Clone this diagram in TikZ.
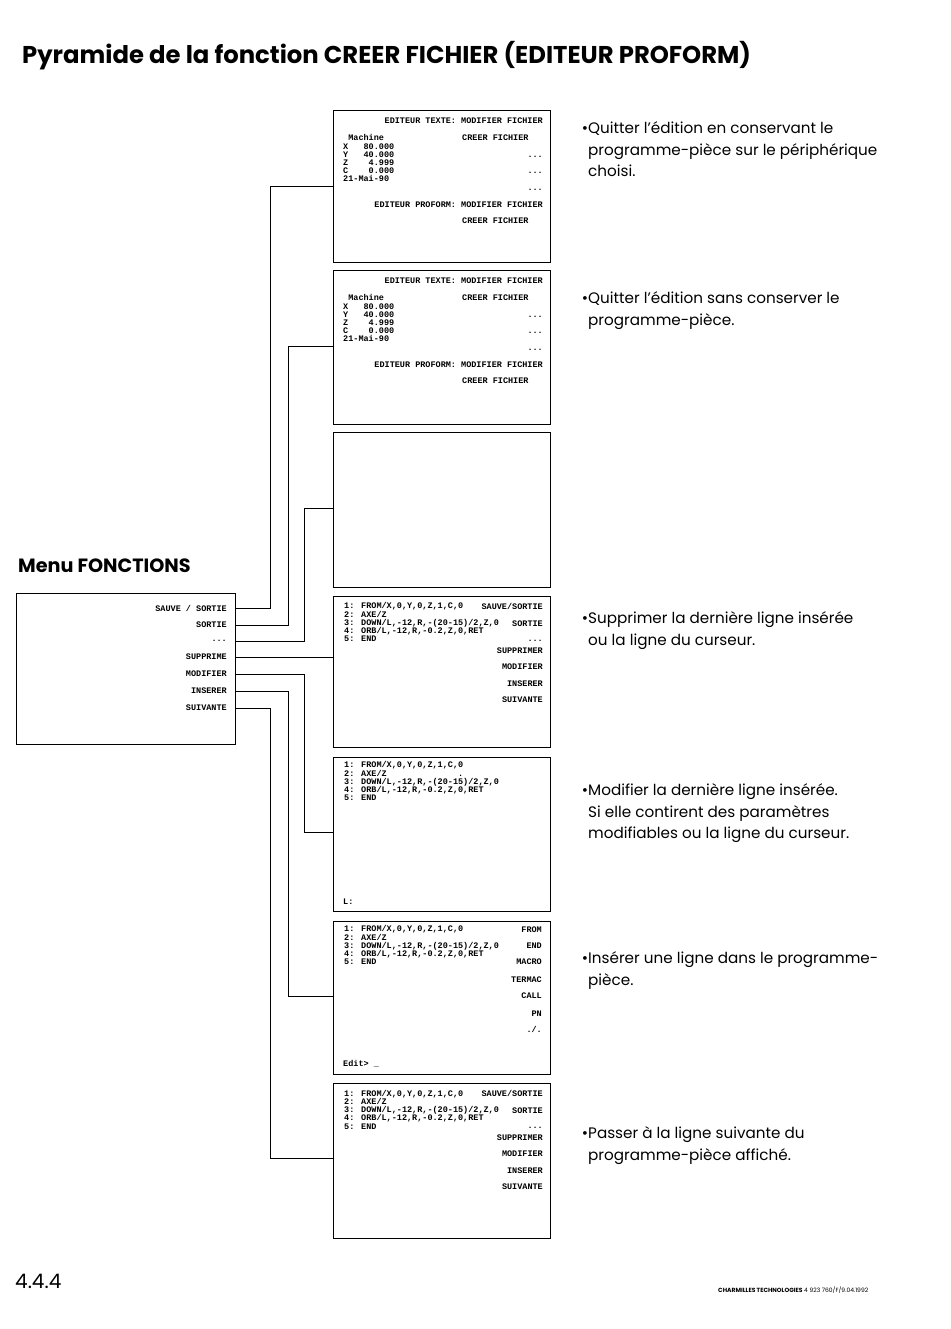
\documentclass[tikz,border=0pt]{standalone}
\usepackage{fontspec}
\setmainfont{Poppins}
\newfontfamily\scrfont{Liberation Mono}
\usetikzlibrary{positioning}

% screen contents, placed from the screen's top left corner
\newcommand{\editorlisting}[1]{%
  \node[scrtext, anchor=east] (#1-head) at ([shift={(210,11)}]#1.north west) {EDITEUR TEXTE: MODIFIER FICHIER};
  \node[scrtext, anchor=north west, align=left] (#1-pos) at ([shift={(10,24.5)}]#1.north west)
    {~Machine\\X~~~80.000\\Y~~~40.000\\Z~~~~4.999\\C~~~~0.000\\21-Mai-90};
  \node[scrtext, anchor=west] (#1-creer) at ([shift={(129,27.5)}]#1.north west) {CREER FICHIER};
  \node[scrtext, anchor=east] (#1-dotsa) at ([shift={(210,46.5)}]#1.north west) {...};
  \node[scrtext, anchor=east] (#1-dotsb) at ([shift={(210,63)}]#1.north west) {...};
  \node[scrtext, anchor=east] (#1-dotsc) at ([shift={(210,79.5)}]#1.north west) {...};
  \node[scrtext, anchor=east] (#1-proform) at ([shift={(210,94.5)}]#1.north west) {EDITEUR PROFORM: MODIFIER FICHIER};
  \node[scrtext, anchor=west] (#1-creerb) at ([shift={(129,111)}]#1.north west) {CREER FICHIER};
}
% optional #1: what stands after AXE/Z
\newcommand{\proglisting}[3][]{%
  \node[scrtext, anchor=north west, align=left] (#2-prog) at ([shift={(11,#3)}]#2.north west)
    {1: FROM/X,0,Y,0,Z,1,C,0\\2: AXE/Z#1\\3: DOWN/L,-12,R,-(20-15)/2,Z,0\\4: ORB/L,-12,R,-0.2,Z,0,RET\\5: END};
}
\newcommand{\fonctionsmenu}[1]{%
  \node[scrtext, anchor=east] (#1-sauve) at ([shift={(210,10)}]#1.north west) {SAUVE/SORTIE};
  \node[scrtext, anchor=east] (#1-sortie) at ([shift={(210,27.5)}]#1.north west) {SORTIE};
  \node[scrtext, anchor=east] (#1-dots) at ([shift={(210,45)}]#1.north west) {...};
  \node[scrtext, anchor=east] (#1-suppr) at ([shift={(210,55)}]#1.north west) {SUPPRIMER};
  \node[scrtext, anchor=east] (#1-modif) at ([shift={(210,71)}]#1.north west) {MODIFIER};
  \node[scrtext, anchor=east] (#1-inser) at ([shift={(210,88)}]#1.north west) {INSERER};
  \node[scrtext, anchor=east] (#1-suiv) at ([shift={(210,104)}]#1.north west) {SUIVANTE};
}

\begin{document}
\begin{tikzpicture}[x=1pt, y=-1pt,
    screen/.style={draw, line width=1.3pt, minimum width=217, minimum height=153, anchor=north west, inner sep=0pt},
    menubox/.style={draw, line width=1pt, minimum width=219, minimum height=151, anchor=north west, inner sep=0pt},
    scrtext/.style={inner sep=0pt, font=\scrfont\bfseries\fontsize{8.5}{8.2}\selectfont},
    desc/.style={inner sep=0pt, anchor=north west, align=left, font=\fontsize{15.2}{21.5}\selectfont},
    heading/.style={inner sep=0pt, anchor=base west, font=\bfseries\fontsize{24.3}{28}\selectfont},
    link/.style={line width=0.9pt}
  ]
  \useasboundingbox[fill=white] (0,0) rectangle (950,1329);

  \node[heading] (title) at (22,64) {Pyramide de la fonction CREER FICHIER (EDITEUR PROFORM)};
  \node[heading, font=\bfseries\fontsize{19.2}{22}\selectfont] (menutitle) at (18,572) {Menu FONCTIONS};

  % the menu
  \node[menubox] (menu) at (16,593) {};
  \node[scrtext, anchor=east] (mSauve) at (227,608) {SAUVE / SORTIE};
  \node[scrtext, anchor=east] (mSortie) at (227,625) {SORTIE};
  \node[scrtext, anchor=east] (mDots) at (227,641) {...};
  \node[scrtext, anchor=east] (mSuppr) at (227,657) {SUPPRIME};
  \node[scrtext, anchor=east] (mModif) at (227,674) {MODIFIER};
  \node[scrtext, anchor=east] (mInser) at (227,691) {INSERER};
  \node[scrtext, anchor=east] (mSuiv) at (227,708) {SUIVANTE};

  % the screens
  \node[screen, minimum height=152] (scr1) at (333,110) {};
  \node[screen, minimum height=154] (scr2) at (333,270) {};
  \node[screen, minimum height=155] (scr3) at (333,432) {};
  \node[screen, minimum height=151] (scr4) at (333,596) {};
  \node[screen, minimum height=154] (scr5) at (333,757) {};
  \node[screen] (scr6) at (333,921) {};
  \node[screen, minimum height=155] (scr7) at (333,1083) {};

  \editorlisting{scr1}
  \editorlisting{scr2}
  \proglisting{scr4}{6.5}
  \fonctionsmenu{scr4}
  \proglisting[~~~~~~~~~~~~~~.]{scr5}{4.5}
  \node[scrtext, anchor=west] (scr5-prompt) at ([shift={(10,145)}]scr5.north west) {L:};
  \proglisting{scr6}{4.5}
  \node[scrtext, anchor=east] (scr6-from) at ([shift={(209,9)}]scr6.north west) {FROM};
  \node[scrtext, anchor=east] (scr6-end) at ([shift={(209,25)}]scr6.north west) {END};
  \node[scrtext, anchor=east] (scr6-macro) at ([shift={(209,41)}]scr6.north west) {MACRO};
  \node[scrtext, anchor=east] (scr6-termac) at ([shift={(209,58.5)}]scr6.north west) {TERMAC};
  \node[scrtext, anchor=east] (scr6-call) at ([shift={(209,75)}]scr6.north west) {CALL};
  \node[scrtext, anchor=east] (scr6-pn) at ([shift={(209,92.5)}]scr6.north west) {PN};
  \node[scrtext, anchor=east] (scr6-pt) at ([shift={(209,108.5)}]scr6.north west) {./.};
  \node[scrtext, anchor=west] (scr6-prompt) at ([shift={(10,143)}]scr6.north west) {Edit> \_};
  \proglisting{scr7}{7}
  \fonctionsmenu{scr7}

  % connectors
  \coordinate (in1) at ([shift={(0,76)}]scr1.north west);
  \coordinate (in2) at ([shift={(0,76)}]scr2.north west);
  \coordinate (in3) at ([shift={(0,76)}]scr3.north west);
  \coordinate (in5) at ([shift={(0,75)}]scr5.north west);
  \coordinate (in6) at ([shift={(0,75)}]scr6.north west);
  \coordinate (in7) at ([shift={(0,75)}]scr7.north west);
  \draw[link] (menu.east |- mSauve) -- ++(34,0) |- (in1);
  \draw[link] (menu.east |- mSortie) -- ++(52,0) |- (in2);
  \draw[link] (menu.east |- mDots) -- ++(68,0) |- (in3);
  \draw[link] (menu.east |- mSuppr) -- (scr4.west |- mSuppr);
  \draw[link] (menu.east |- mModif) -- ++(68,0) |- (in5);
  \draw[link] (menu.east |- mInser) -- ++(52,0) |- (in6);
  \draw[link] (menu.east |- mSuiv) -- ++(34,0) |- (in7);

  % what each choice does
  \node[desc] (d1) at (588,121.5) {\llap{\textbullet}Quitter l'édition en conservant le\\programme-pièce sur le périphérique\\choisi.};
  \node[desc] (d2) at (588,291.5) {\llap{\textbullet}Quitter l'édition sans conserver le\\programme-pièce.};
  \node[desc] (d3) at (588,611.5) {\llap{\textbullet}Supprimer la dernière ligne insérée\\ou la ligne du curseur.};
  \node[desc] (d4) at (588,783.5) {\llap{\textbullet}Modifier la dernière ligne insérée.\\Si elle contirent des paramètres\\modifiables ou la ligne du curseur.};
  \node[desc] (d5) at (588,951.5) {\llap{\textbullet}Insérer une ligne dans le programme-\\pièce.};
  \node[desc] (d6) at (588,1126.5) {\llap{\textbullet}Passer à la ligne suivante du\\programme-pièce affiché.};

  \node[inner sep=0pt, anchor=base west, font=\fontsize{20}{24}\selectfont] (pagenum) at (15,1288) {4.4.4};
  \node[inner sep=0pt, anchor=base west, font=\fontsize{6}{7}\selectfont] (footer) at (718,1292) {\textbf{CHARMILLES TECHNOLOGIES} 4 923 760/F/9.04.1992};
\end{tikzpicture}
\end{document}
